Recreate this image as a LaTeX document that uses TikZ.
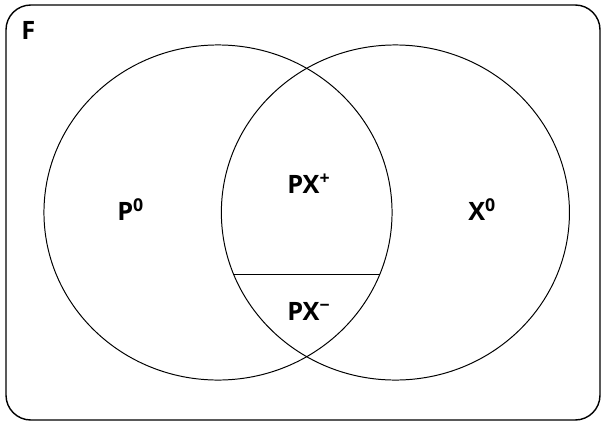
\documentclass[tikz,border=0pt]{standalone}
\usepackage{fontspec}
\setmainfont{Open Sans}
\usepackage{tikz}
\usetikzlibrary{shapes.geometric}

\tikzset{
  setshape/.style={ellipse, draw, line width=0.7pt, inner sep=0pt,
    minimum width=8.7cm, minimum height=8.375cm},
  setlabel/.style={font=\bfseries\fontsize{18}{20}\selectfont, inner sep=0pt, anchor=base west}
}

\begin{document}
\begin{tikzpicture}[x=0.025cm, y=-0.025cm]
  \useasboundingbox (0,0) rectangle (604,421);
  % frame
  \draw[line width=1pt, rounded corners=0.62cm] (6,5) rectangle (600,420);
  \node[setlabel] (F) at (21,39) {F};
  % the two sets
  \node[setshape] (P0) at (218,212.5) {};
  \node[setshape] (X0) at (395.4,212.5) {};
  \draw[line width=0.7pt] (X0.201.6) -- (P0.-21.6);
  % labels
  \node[setlabel] (lblP) at (117,220) {P\textsuperscript{0}};
  \node[setlabel] (lblX) at (468,220) {X\textsuperscript{0}};
  \node[setlabel] (lblPXp) at (287,193) {PX\textsuperscript{+}};
  \node[setlabel] (lblPXm) at (287,320) {PX\textsuperscript{−}};
\end{tikzpicture}
\end{document}
